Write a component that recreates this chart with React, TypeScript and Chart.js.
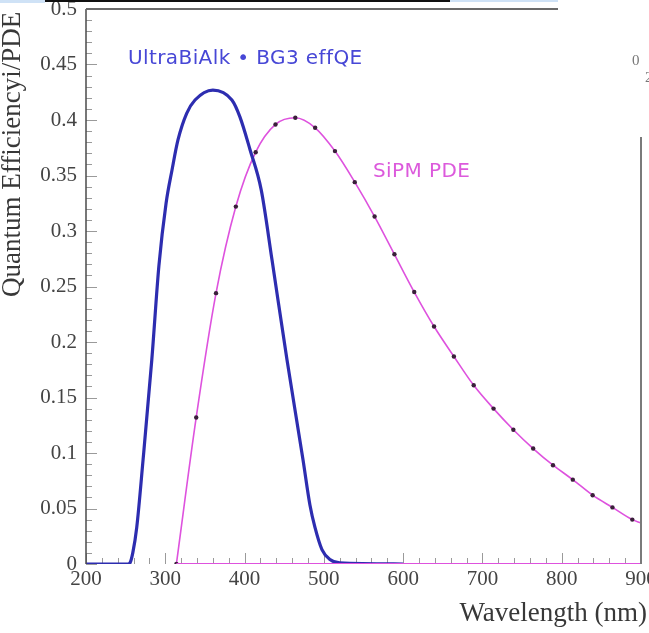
import React, { useEffect, useRef } from "react";
import { Chart, registerables } from "chart.js";

Chart.register(...registerables);

const W = 649;
const H = 633;

// Blue curve: UltraBiAlk * BG3 effective QE
const blueWavelengths = [200, 253, 255.5, 259, 264, 272, 283, 292, 301, 308.5, 316, 327, 337.5, 360, 384, 394, 407, 421, 434.6, 453.5, 473.7, 482.5, 488.8, 497.6, 507.7, 520, 600];
const blueValues = [0, 0, 0.001, 0.01, 0.033, 0.094, 0.184, 0.269, 0.325, 0.355, 0.382, 0.406, 0.418, 0.427, 0.418, 0.403, 0.373, 0.337, 0.274, 0.184, 0.094, 0.053, 0.033, 0.013, 0.004, 0.001, 0];

// Magenta curve: SiPM PDE (with markers)
const pinkWavelengths = [314, 339, 364, 389, 414, 439, 464, 489, 514, 539, 564, 589, 614, 639, 664, 689, 714, 739, 764, 789, 814, 839, 864, 889, 900];
const pinkValues = [0, 0.132, 0.244, 0.322, 0.371, 0.396, 0.402, 0.393, 0.372, 0.344, 0.313, 0.279, 0.245, 0.214, 0.187, 0.161, 0.140, 0.121, 0.104, 0.089, 0.076, 0.062, 0.051, 0.040, 0.037];

// Magenta baseline
const pinkBaseWavelengths = [314, 900];
const pinkBaseValues = [0, 0];

const xTicks = [200, 300, 400, 500, 600, 700, 800, 900];
const yTicks = [0, 0.05, 0.1, 0.15, 0.2, 0.25, 0.3, 0.35, 0.4, 0.45, 0.5];

const xTitle = "Wavelength (nm)";
const yTitle = "Quantum Efficiencyi/PDE";
const blueLabel = "UltraBiAlk \u2022 BG3 effQE";
const pinkLabel = "SiPM PDE";

const BLUE = "#2d2db0";
const PINK = "#de52de";
const DOT = "#3a1f3a";
const SERIF = "'Liberation Serif', 'DejaVu Serif', serif";
const SANS = "'DejaVu Sans', 'Liberation Sans', sans-serif";

const toXY = (xs: number[], ys: number[]) => xs.map((x, i) => ({ x, y: ys[i] }));

const decorPlugin = {
  id: "decor",
  beforeDatasetsDraw(chart: any) {
    const ctx = chart.ctx;
    const xs = chart.scales.x;
    const ys = chart.scales.y;
    const { left, bottom } = chart.chartArea;
    ctx.save();
    ctx.strokeStyle = "#9a9a9a";
    ctx.lineWidth = 1;
    for (let v = 0; v <= 50; v++) {
      const y = Math.round(ys.getPixelForValue(v / 100)) + 0.5;
      const len = v % 5 === 0 ? 11 : 6;
      ctx.beginPath();
      ctx.moveTo(left, y);
      ctx.lineTo(left + len, y);
      ctx.stroke();
    }
    for (let v = 200; v <= 900; v += 20) {
      const x = Math.round(xs.getPixelForValue(v)) + 0.5;
      const len = v % 100 === 0 ? 11 : 6;
      ctx.beginPath();
      ctx.moveTo(x, bottom);
      ctx.lineTo(x, bottom - len);
      ctx.stroke();
    }
    ctx.restore();
  },
  afterDatasetsDraw(chart: any) {
    const ctx = chart.ctx;
    const { left, right, top, bottom } = chart.chartArea;
    ctx.save();
    // frame
    ctx.strokeStyle = "#4a4a4a";
    ctx.lineWidth = 1.5;
    ctx.beginPath();
    ctx.moveTo(left, top);
    ctx.lineTo(left, bottom);
    ctx.stroke();
    ctx.strokeStyle = "#6a6a6a";
    ctx.lineWidth = 2;
    ctx.beginPath();
    ctx.moveTo(left, top);
    ctx.lineTo(558, top);
    ctx.stroke();
    ctx.strokeStyle = "#7a7a7a";
    ctx.beginPath();
    ctx.moveTo(right, 137);
    ctx.lineTo(right, bottom);
    ctx.stroke();

    // top strip
    ctx.fillStyle = "#cfe2f6";
    ctx.fillRect(0, 0, 45, 3);
    ctx.fillRect(450, 0, 108, 2);
    ctx.fillStyle = "#111111";
    ctx.fillRect(45, 0, 405, 2);

    // axis titles
    ctx.fillStyle = "#383838";
    ctx.font = `27px ${SERIF}`;
    ctx.textAlign = "right";
    ctx.textBaseline = "alphabetic";
    ctx.fillText(xTitle, 647, 621);
    ctx.save();
    ctx.translate(13, 297);
    ctx.rotate(-Math.PI / 2);
    ctx.textAlign = "left";
    ctx.textBaseline = "middle";
    ctx.font = `27px ${SERIF}`;
    ctx.fillText(yTitle, 0, 0);
    ctx.restore();

    // labels
    ctx.textAlign = "left";
    ctx.textBaseline = "alphabetic";
    ctx.font = `20px ${SANS}`;
    try { (ctx as any).letterSpacing = "0.4px"; } catch (e) {}
    ctx.fillStyle = "#4747d6";
    ctx.fillText(blueLabel, 128, 64);
    ctx.fillStyle = "#dc5adc";
    ctx.fillText(pinkLabel, 373, 177);
    try { (ctx as any).letterSpacing = "0px"; } catch (e) {}

    // stray fragment from neighbouring panel
    ctx.fillStyle = "#777777";
    ctx.font = `15px ${SERIF}`;
    ctx.fillText("0", 632, 65);
    ctx.fillText("2", 645, 82);
    ctx.restore();
  },
};

export default function App() {
  const ref = useRef<HTMLCanvasElement | null>(null);
  useEffect(() => {
    if (!ref.current) return;
    const tickFont = { family: SERIF, size: 21 };
    const chart = new Chart(ref.current, {
      type: "line",
      data: {
        datasets: [
          {
            label: "SiPM PDE baseline",
            data: toXY(pinkBaseWavelengths, pinkBaseValues),
            borderColor: PINK,
            borderWidth: 2,
            pointRadius: 0,
          },
          {
            label: "UltraBiAlk * BG3 effQE",
            data: toXY(blueWavelengths, blueValues),
            borderColor: BLUE,
            borderWidth: 3.2,
            pointRadius: 0,
            cubicInterpolationMode: "monotone",
          },
          {
            label: "SiPM PDE",
            data: toXY(pinkWavelengths, pinkValues),
            borderColor: PINK,
            borderWidth: 1.6,
            pointRadius: pinkWavelengths.map((w) => (w === 900 ? 0 : 2.2)),
            pointBackgroundColor: DOT,
            pointBorderColor: DOT,
            pointBorderWidth: 0,
            cubicInterpolationMode: "monotone",
          },
        ],
      },
      options: {
        responsive: false,
        maintainAspectRatio: false,
        animation: false,
        layout: { padding: { left: 0, right: 8, top: 9, bottom: 0 } },
        plugins: { legend: { display: false }, tooltip: { enabled: false } },
        scales: {
          x: {
            type: "linear",
            min: 200,
            max: 900,
            afterBuildTicks: (s: any) => {
              s.ticks = xTicks.map((v) => ({ value: v }));
            },
            ticks: { font: tickFont, color: "#444", padding: 3, maxRotation: 0, autoSkip: false },
            grid: { display: false, drawTicks: false },
            border: { display: false },
            afterFit: (s: any) => {
              s.height = 69;
              s.paddingLeft = 0;
              s.paddingRight = 0;
            },
          },
          y: {
            type: "linear",
            min: 0,
            max: 0.5,
            afterBuildTicks: (s: any) => {
              s.ticks = yTicks.map((v) => ({ value: v }));
            },
            ticks: {
              font: tickFont,
              color: "#444",
              padding: 9,
              autoSkip: false,
              callback: (v: any) => String(Number(Number(v).toFixed(2))),
            },
            grid: { display: false, drawTicks: false },
            border: { display: false },
            afterFit: (s: any) => {
              s.width = 86;
              s.paddingTop = 0;
              s.paddingBottom = 0;
            },
          },
        },
      },
      plugins: [decorPlugin],
    });
    return () => chart.destroy();
  }, []);
  return (
    <div style={{ position: "absolute", left: 0, top: 0, width: W, height: H, background: "#fff" }}>
      <canvas ref={ref} width={W} height={H} style={{ display: "block" }} />
    </div>
  );
}
